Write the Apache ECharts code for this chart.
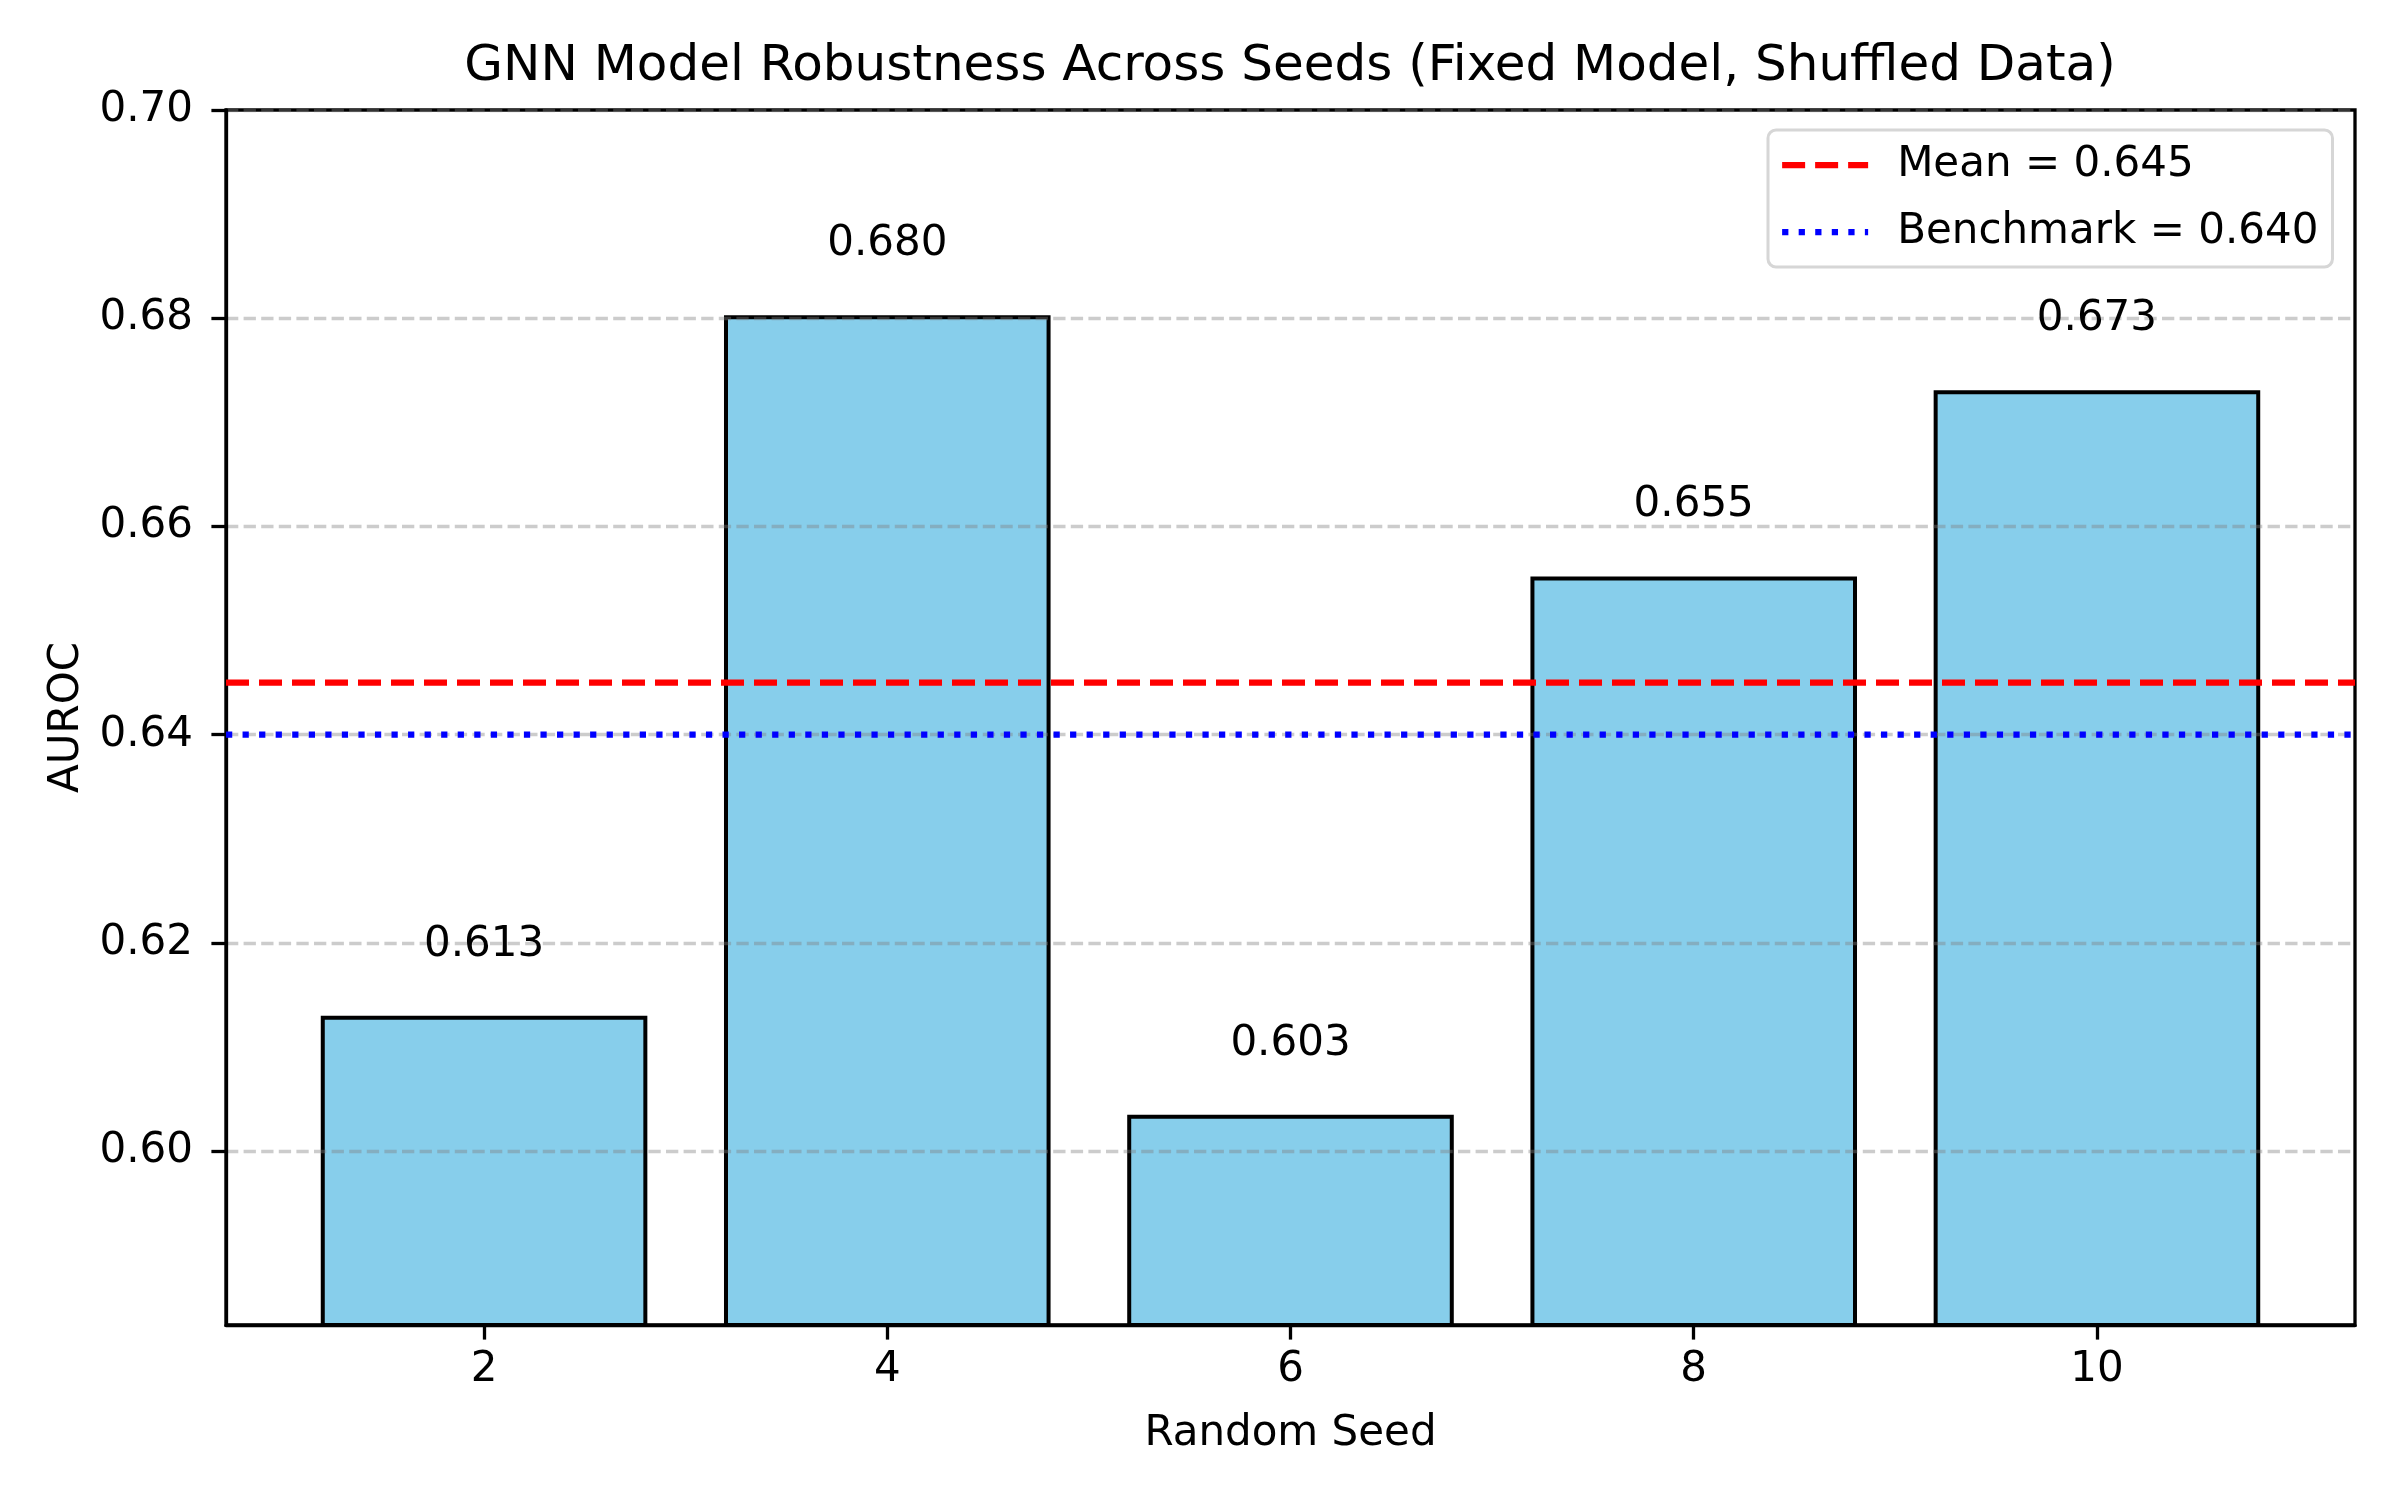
<!DOCTYPE html>
<html>
<head>
<meta charset="utf-8">
<script src="https://cdn.jsdelivr.net/npm/echarts@6/dist/echarts.min.js"></script>
<style>
html,body{margin:0;padding:0;background:#fff;}
#chart{width:2400px;height:1500px;}
</style>
</head>
<body>
<div id="chart"></div>
<script>
// ---- data ----
const seeds = [2, 4, 6, 8, 10];
const auroc = [0.6128, 0.6801, 0.6033, 0.6550, 0.6729];
const meanValue = 0.645;
const benchmarkValue = 0.640;
const yTicks = [0.60, 0.62, 0.64, 0.66, 0.68, 0.70];
const xTicks = [2, 4, 6, 8, 10];
const titleText = 'GNN Model Robustness Across Seeds (Fixed Model, Shuffled Data)';
const meanLabel = 'Mean = 0.645';
const benchLabel = 'Benchmark = 0.640';

// ---- layout / style constants ----
const X_MIN = 0.72, X_MAX = 11.28;
const Y_MIN = 0.5833, Y_MAX = 0.70;
const BAR_HALF = 0.8;
const LABEL_PAD = 0.005;
const FONT = 'DejaVu Sans';
const FS = 42;

const chart = echarts.init(document.getElementById('chart'), null, {renderer: 'canvas'});

const barData = seeds.map((s, i) => [s, auroc[i]]);

const option = {
  animation: false,
  backgroundColor: '#ffffff',
  textStyle: {fontFamily: FONT},
  grid: {
    left: 226, right: 45, top: 110, bottom: 175,
    show: true, borderColor: '#000', borderWidth: 3.3, backgroundColor: 'transparent'
  },
  graphic: [{
    type: 'text', x: 1290, y: 67, z: 10,
    style: {text: titleText, fontFamily: FONT, fontSize: 50, fill: '#000',
            textAlign: 'center', textVerticalAlign: 'middle'}
  }],
  legend: {
    orient: 'vertical', left: 1768, top: 130,
    data: [meanLabel, benchLabel],
    backgroundColor: '#fff',
    borderColor: '#d6d6d6', borderWidth: 3, borderRadius: 8,
    padding: [14, 14, 14, 11],
    itemWidth: 86, itemHeight: 2, itemGap: 25,
    itemStyle: {opacity: 0, borderWidth: 0},
    lineStyle: {width: 6.25},
    textStyle: {fontFamily: FONT, fontSize: FS, color: '#000', padding: [0, 0, 0, 24]},
    z: 10
  },
  xAxis: {
    type: 'value', min: X_MIN, max: X_MAX, z: 3,
    name: 'Random Seed', nameLocation: 'middle', nameGap: 88,
    nameTextStyle: {fontFamily: FONT, fontSize: FS, color: '#000'},
    axisLine: {show: true, onZero: false, lineStyle: {color: '#000', width: 3.3}},
    axisTick: {show: true, inside: false, length: 14.6, customValues: xTicks,
               lineStyle: {color: '#000', width: 3.3}},
    axisLabel: {customValues: xTicks, margin: 24, fontFamily: FONT, fontSize: FS, color: '#000',
                formatter: v => String(Math.round(v))},
    splitLine: {show: false}
  },
  yAxis: {
    type: 'value', min: Y_MIN, max: Y_MAX, z: 3,
    name: 'AUROC', nameLocation: 'middle', nameGap: 137, nameRotate: 90,
    nameTextStyle: {fontFamily: FONT, fontSize: FS, color: '#000'},
    axisLine: {show: true, lineStyle: {color: '#000', width: 3.3}},
    axisTick: {show: true, inside: false, length: 14.6, customValues: yTicks,
               lineStyle: {color: '#000', width: 3.3}},
    axisLabel: {customValues: yTicks, margin: 33, fontFamily: FONT, fontSize: FS, color: '#000',
                formatter: v => v.toFixed(2)},
    splitLine: {show: true, lineStyle: {color: 'rgba(128,128,128,0.4)', width: 3.3, type: [12.3, 5.3]}}
  },
  series: [
    {
      type: 'custom', name: 'AUROC', z: 2,
      data: barData,
      encode: {x: 0, y: 1},
      renderItem: function (params, api) {
        const x = api.value(0), y = api.value(1);
        const p1 = api.coord([x - BAR_HALF, y]);
        const p2 = api.coord([x + BAR_HALF, Y_MIN]);
        return {
          type: 'rect',
          shape: {x: p1[0], y: p1[1], width: p2[0] - p1[0], height: p2[1] - p1[1]},
          style: {fill: '#87CEEB', stroke: '#000', lineWidth: 4}
        };
      }
    },
    {
      type: 'custom', name: 'labels', z: 4,
      data: barData,
      encode: {x: 0, y: 1},
      renderItem: function (params, api) {
        const x = api.value(0), y = api.value(1);
        const p = api.coord([x, y + LABEL_PAD]);
        return {
          type: 'text', x: p[0], y: p[1],
          style: {text: y.toFixed(3), fontFamily: FONT, fontSize: FS, fill: '#000',
                  textAlign: 'center', textVerticalAlign: 'bottom'}
        };
      }
    },
    {
      type: 'line', name: meanLabel, z: 5, symbol: 'none', silent: true,
      data: [[X_MIN, meanValue], [X_MAX, meanValue]],
      lineStyle: {color: '#ff0000', width: 6.25, type: [23, 10], cap: 'butt'},
      itemStyle: {color: 'rgba(255,0,0,0)'}
    },
    {
      type: 'line', name: benchLabel, z: 5, symbol: 'none', silent: true,
      data: [[X_MIN, benchmarkValue], [X_MAX, benchmarkValue]],
      lineStyle: {color: '#0000ff', width: 6.25, type: [6.25, 10.3], cap: 'butt'},
      itemStyle: {color: 'rgba(0,0,255,0)'}
    }
  ]
};
chart.setOption(option);
</script>
</body>
</html>
